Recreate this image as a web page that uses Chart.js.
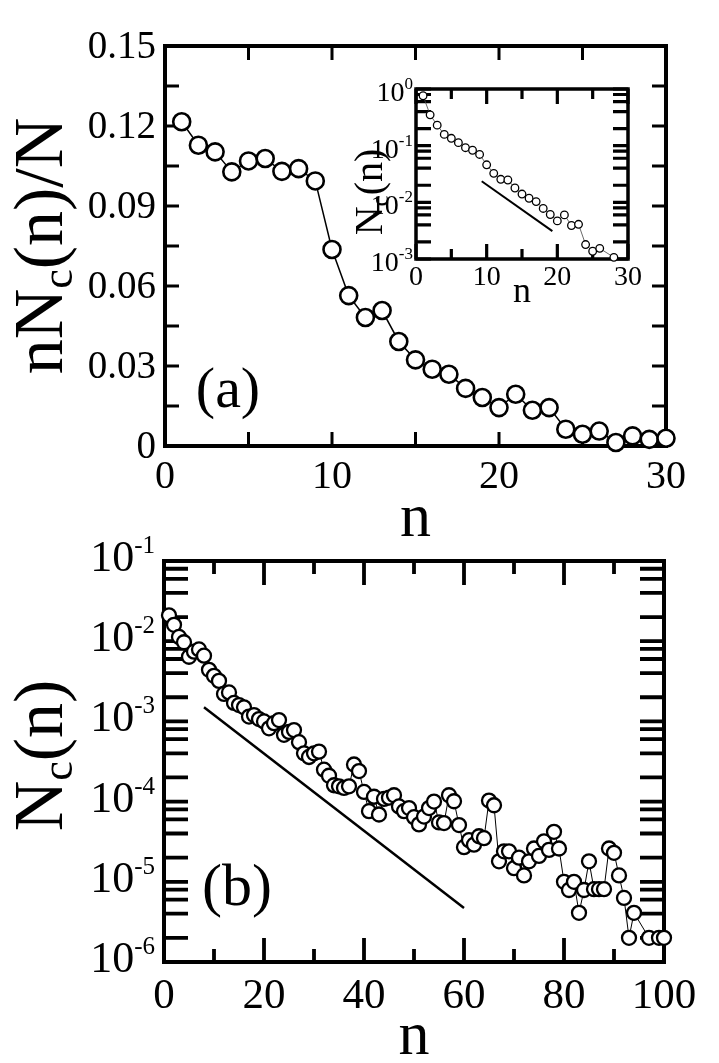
<!DOCTYPE html>
<html>
<head>
<meta charset="utf-8">
<script src="https://cdn.jsdelivr.net/npm/chart.js@4.4.1/dist/chart.umd.min.js"></script>
<style>
  body { margin: 0; background: #fff; }
  #wrap { position: relative; width: 719px; height: 1063px; }
  #wrap canvas { position: absolute; left: 0; top: 0; }
</style>
</head>
<body>
<div id="wrap">
  <canvas id="panelA" width="719" height="1063"></canvas>
  <canvas id="inset" width="719" height="1063"></canvas>
  <canvas id="panelB" width="719" height="1063"></canvas>
</div>
<script>
// =========================
// DATA
// =========================

// (a) n Nc(n)/N
const nA = [1,2,3,4,5,6,7,8,9,10,11,12,13,14,15,16,17,18,19,20,21,22,23,24,25,26,27,28,29,30];
const valA = [0.1216,0.1128,0.1103,0.1028,0.1069,0.1078,0.1030,0.1040,0.0994,0.0737,
              0.0564,0.0482,0.0508,0.0392,0.0323,0.0288,0.0269,0.0216,0.0182,0.0144,
              0.0194,0.0134,0.0144,0.0063,0.0044,0.0056,0.0013,0.0038,0.0025,0.0029];
const xTicksA = [0,5,10,15,20,25,30];
const xLabelsA = [0,10,20,30];
const yTicksA = [0,0.015,0.03,0.045,0.06,0.075,0.09,0.105,0.12,0.135,0.15];
const yLabelValsA = [0,0.03,0.06,0.09,0.12,0.15];
const yLabelTextA = ['0','0.03','0.06','0.09','0.12','0.15'];

// inset Nc(n), log scale
const nIn = [1,2,3,4,5,6,7,8,9,10,11,12,13,14,15,16,17,18,19,20,21,22,23,24,25,26,28];
const ncIn = [0.76,0.35,0.23,0.158,0.135,0.113,0.092,0.083,0.070,0.046,
              0.0325,0.0255,0.0248,0.0179,0.0140,0.0118,0.0103,0.0078,0.0061,0.0047,
              0.0060,0.0039,0.0041,0.0018,0.00137,0.00154,0.00107];
const guideInN = [9.3, 19.3];
const guideInV = [0.0235, 0.0031];
const xTicksIn = [0,5,10,15,20,25,30];
const xLabelsIn = [0,10,20,30];
const expIn = [-3,-2,-1,0];

// (b) Nc(n), log scale
const nB = [1,2,3,4,5,6,7,8,9,10,11,12,13,14,15,16,17,18,19,20,
            21,22,23,24,25,26,27,28,29,30,31,32,33,34,35,36,37,38,39,40,
            41,42,43,44,45,46,47,48,49,50,51,52,53,54,55,56,57,58,59,60,
            61,62,63,64,65,66,67,68,69,70,71,72,73,74,75,76,77,78,79,80,
            81,82,83,84,85,86,87,88,89,90,91,92,93,94,97,99,100];
const ncB = [0.021,0.016,0.0113,0.0097,0.0064,0.0074,0.0079,0.0066,0.0044,0.0037,
             0.0032,0.0022,0.0023,0.0017,0.0016,0.0015,0.00115,0.0012,0.00107,0.0010,
             0.00082,0.00095,0.00104,0.00068,0.00074,0.00078,0.00055,0.00040,0.00036,0.00040,
             0.00042,0.00025,0.00021,0.00016,0.000155,0.000148,0.000155,0.00029,0.00024,0.000132,
             7.6e-5,1.15e-4,6.9e-5,1.08e-4,1.12e-4,1.2e-4,8.7e-5,7.6e-5,8.3e-5,6.4e-5,
             5.2e-5,6.5e-5,8.3e-5,1.0e-4,5.5e-5,5.4e-5,1.2e-4,1.01e-4,5.1e-5,2.7e-5,
             3.3e-5,2.9e-5,3.7e-5,3.5e-5,1.03e-4,9.0e-5,1.8e-5,2.4e-5,2.4e-5,1.48e-5,
             2.0e-5,1.2e-5,1.8e-5,2.6e-5,2.1e-5,3.2e-5,2.5e-5,4.2e-5,2.6e-5,1.0e-5,
             7.9e-6,1.0e-5,4.1e-6,7.9e-6,1.8e-5,8.1e-6,8.1e-6,8.1e-6,2.6e-5,2.3e-5,
             1.2e-5,6.3e-6,2.0e-6,4.1e-6,2.0e-6,2.0e-6,2.0e-6];
const guideBN = [8, 60];
const guideBV = [1.5e-3, 4.7e-6];
const xTicksB = [0,10,20,30,40,50,60,70,80,90,100];
const xLabelsB = [0,20,40,60,80,100];
const expB = [-6,-5,-4,-3,-2,-1];

// =========================
// HELPERS
// =========================
const SERIF = "'Liberation Serif', 'Times New Roman', serif";
const font = (size, bold) => (bold ? 'bold ' : '') + size + 'px ' + SERIF;
const pts = (xs, ys) => xs.map((x, i) => ({ x: x, y: ys[i] }));

// 2,4,6,8 x 10^k between the decades
function logMinor(exps) {
  const out = [];
  for (let i = 0; i < exps.length - 1; i++) {
    [2, 4, 6, 8].forEach(m => out.push(m * Math.pow(10, exps[i])));
  }
  return out;
}

// text made of pieces (sub/superscripts), baseline at (x,y)
function drawRun(ctx, pieces, x, y, rot, align) {
  ctx.save();
  ctx.translate(x, y);
  ctx.rotate(rot || 0);
  let w = 0;
  pieces.forEach(p => { ctx.font = font(p.size, p.bold); p.w = ctx.measureText(p.t).width; w += p.w; });
  let cx = align === 'right' ? -w : (align === 'left' ? 0 : -w / 2);
  ctx.textAlign = 'left';
  ctx.textBaseline = 'alphabetic';
  ctx.fillStyle = '#000';
  pieces.forEach(p => { ctx.font = font(p.size, p.bold); ctx.fillText(p.t, cx, p.dy || 0); cx += p.w; });
  ctx.restore();
}

// frame + inward ticks on all four sides
function framePlugin(cfg) {
  return {
    id: 'frame',
    beforeDatasetsDraw(chart) {
      const { ctx, chartArea: a, scales: { x, y } } = chart;
      ctx.save();
      ctx.strokeStyle = '#000';
      ctx.lineWidth = cfg.tickWidth;
      ctx.beginPath();
      cfg.xTicks.forEach(v => {
        const px = x.getPixelForValue(v);
        const len = cfg.xMajor.includes(v) ? cfg.xLen : cfg.xMinorLen;
        ctx.moveTo(px, a.bottom); ctx.lineTo(px, a.bottom - len);
        ctx.moveTo(px, a.top); ctx.lineTo(px, a.top + len);
      });
      cfg.yTicks.forEach(v => {
        const py = y.getPixelForValue(v);
        ctx.moveTo(a.left, py); ctx.lineTo(a.left + cfg.yLen, py);
        ctx.moveTo(a.right, py); ctx.lineTo(a.right - cfg.yLen, py);
      });
      ctx.stroke();
      ctx.lineWidth = cfg.frameWidth;
      ctx.strokeRect(a.left, a.top, a.right - a.left, a.bottom - a.top);
      ctx.restore();
    },
    afterDraw(chart) {
      cfg.labels(chart.ctx, chart.scales.x, chart.scales.y, chart.chartArea);
    }
  };
}

function baseOptions(pad, xMin, xMax, yScale) {
  return {
    responsive: false,
    animation: false,
    events: [],
    layout: { padding: pad, autoPadding: false },
    plugins: { legend: { display: false }, tooltip: { enabled: false } },
    scales: {
      x: { type: 'linear', min: xMin, max: xMax, display: false },
      y: Object.assign({ display: false }, yScale)
    }
  };
}

// =========================
// PANEL (a)
// =========================
new Chart(document.getElementById('panelA'), {
  type: 'line',
  data: {
    datasets: [{
      data: pts(nA, valA),
      borderColor: '#000', borderWidth: 1.5,
      pointRadius: 8.5, pointBorderWidth: 2.6,
      pointBackgroundColor: '#fff', pointBorderColor: '#000',
      tension: 0, clip: false
    }]
  },
  options: baseOptions({ left: 165, top: 46, right: 719 - 666, bottom: 1063 - 446 }, 0, 30,
    { type: 'linear', min: 0, max: 0.15 }),
  plugins: [framePlugin({
    xTicks: xTicksA, xMajor: xTicksA, xLen: 14, xMinorLen: 14,
    yTicks: yTicksA, yLen: 14, tickWidth: 3, frameWidth: 4,
    labels(ctx, x, y, a) {
      ctx.save();
      ctx.fillStyle = '#000';
      ctx.font = font(39);
      ctx.textAlign = 'right';
      ctx.textBaseline = 'alphabetic';
      yLabelValsA.forEach((v, i) => ctx.fillText(yLabelTextA[i], 156, y.getPixelForValue(v) + 12));
      ctx.textAlign = 'center';
      ctx.font = font(40);
      xLabelsA.forEach(v => ctx.fillText(String(v), x.getPixelForValue(v), 488));
      ctx.font = font(62);
      ctx.fillText('n', (a.left + a.right) / 2, 536);
      ctx.font = font(58);
      ctx.fillText('(a)', 228, 407);
      ctx.restore();
      drawRun(ctx, [
        { t: 'nN', size: 70 },
        { t: 'c', size: 44, dy: 10 },
        { t: '(n)/N', size: 70 }
      ], 62, (a.top + a.bottom) / 2, -Math.PI / 2, 'center');
    }
  })]
});

// =========================
// INSET
// =========================
const decIn = expIn.map(e => Math.pow(10, e));
new Chart(document.getElementById('inset'), {
  type: 'line',
  data: {
    datasets: [{
      data: pts(nIn, ncIn),
      borderColor: '#444', borderWidth: 0.8,
      pointRadius: 3.8, pointBorderWidth: 1.3,
      pointBackgroundColor: '#fff', pointBorderColor: '#000',
      tension: 0, clip: false
    }, {
      data: pts(guideInN, guideInV),
      borderColor: '#000', borderWidth: 2,
      pointRadius: 0, tension: 0
    }]
  },
  options: baseOptions({ left: 416, top: 89, right: 719 - 628, bottom: 1063 - 259 }, 0, 30,
    { type: 'logarithmic', min: 1e-3, max: 1 }),
  plugins: [framePlugin({
    xTicks: xTicksIn, xMajor: xLabelsIn, xLen: 15, xMinorLen: 10,
    yTicks: decIn.concat(logMinor(expIn)), yLen: 15, tickWidth: 3.2, frameWidth: 3.5,
    labels(ctx, x, y, a) {
      ctx.save();
      ctx.fillStyle = '#000';
      ctx.font = font(28);
      ctx.textAlign = 'center';
      ctx.textBaseline = 'alphabetic';
      xLabelsIn.forEach(v => ctx.fillText(String(v), x.getPixelForValue(v), 285));
      ctx.font = font(36);
      ctx.fillText('n', (a.left + a.right) / 2, 302);
      ctx.restore();
      expIn.forEach((e, i) => {
        drawRun(ctx, [{ t: '10', size: 28 }, { t: String(e), size: 17, dy: -12 }],
          413, y.getPixelForValue(decIn[i]) + 12, 0, 'right');
      });
      drawRun(ctx, [
        { t: 'N', size: 40 },
        { t: 'c', size: 25, dy: 6 },
        { t: '(n)', size: 40 }
      ], 382, 192, -Math.PI / 2, 'center');
    }
  })]
});

// =========================
// PANEL (b)
// =========================
const decB = expB.map(e => Math.pow(10, e));
new Chart(document.getElementById('panelB'), {
  type: 'line',
  data: {
    datasets: [{
      data: pts(nB, ncB),
      borderColor: '#000', borderWidth: 1,
      pointRadius: 7, pointBorderWidth: 2.3,
      pointBackgroundColor: '#fff', pointBorderColor: '#000',
      tension: 0, clip: false
    }, {
      data: pts(guideBN, guideBV),
      borderColor: '#000', borderWidth: 2.5,
      pointRadius: 0, tension: 0
    }]
  },
  options: baseOptions({ left: 164, top: 561, right: 719 - 664, bottom: 1063 - 962 }, 0, 100,
    { type: 'logarithmic', min: 1e-6, max: 1e-1 }),
  plugins: [framePlugin({
    xTicks: xTicksB, xMajor: xLabelsB, xLen: 24, xMinorLen: 13,
    yTicks: decB.concat(logMinor(expB)), yLen: 24, tickWidth: 3.8, frameWidth: 4,
    labels(ctx, x, y, a) {
      ctx.save();
      ctx.fillStyle = '#000';
      ctx.font = font(43);
      ctx.textAlign = 'center';
      ctx.textBaseline = 'alphabetic';
      xLabelsB.forEach(v => ctx.fillText(String(v), x.getPixelForValue(v), 1008));
      ctx.font = font(62);
      ctx.fillText('n', (a.left + a.right) / 2, 1054);
      ctx.font = font(60);
      ctx.fillText('(b)', 237, 905);
      ctx.restore();
      expB.forEach((e, i) => {
        drawRun(ctx, [{ t: '10', size: 44 }, { t: String(e), size: 25, dy: -18 }],
          155, y.getPixelForValue(decB[i]) + 10, 0, 'right');
      });
      drawRun(ctx, [
        { t: 'N', size: 70 },
        { t: 'c', size: 44, dy: 10 },
        { t: '(n)', size: 70 }
      ], 62, (a.top + a.bottom) / 2 - 6, -Math.PI / 2, 'center');
    }
  })]
});
</script>
</body>
</html>
